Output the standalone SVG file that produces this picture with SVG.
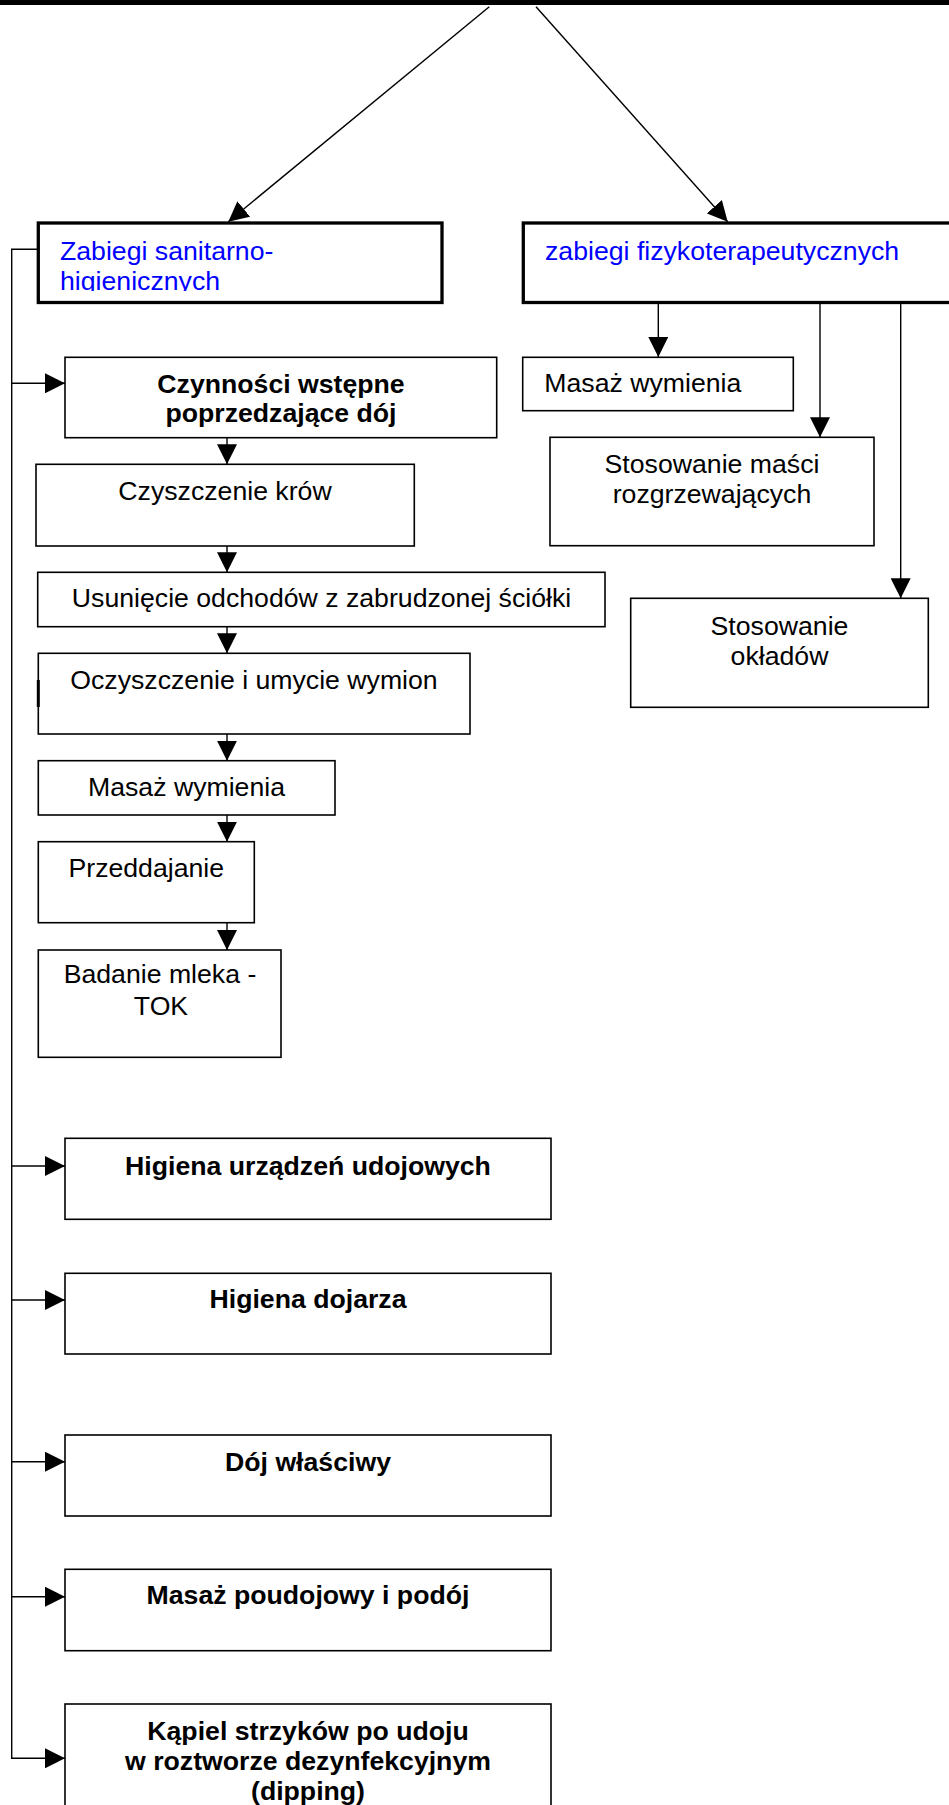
<svg xmlns="http://www.w3.org/2000/svg" width="949" height="1805" viewBox="0 0 949 1805">
<style>
.t{font-family:"Liberation Sans",Arial,sans-serif;font-size:26.67px;fill:#000}
.b{font-weight:bold}
.c{text-anchor:middle}
.blue{fill:#0000FF}
.box{fill:#fff;stroke:#000;stroke-width:1.6}
.big{fill:#fff;stroke:#000;stroke-width:3.3}
.ln{fill:none;stroke:#000;stroke-width:1.4}
</style>
<defs>
<marker id="ah" markerUnits="userSpaceOnUse" markerWidth="20" markerHeight="20" refX="20" refY="10" orient="auto">
<path d="M0,0 L20,10 L0,20 z" fill="#000"/>
</marker>
<clipPath id="clipL"><rect x="40" y="225" width="400" height="66"/></clipPath>
</defs>
<rect x="0" y="0" width="949" height="5" fill="#000"/>

<g id="connectors">
<line class="ln" x1="489.3" y1="6.7" x2="228.3" y2="221.7" marker-end="url(#ah)"/>
<line class="ln" x1="536" y1="6.7" x2="727.7" y2="221.7" marker-end="url(#ah)"/>
<polyline class="ln" points="38,249.3 11.7,249.3 11.7,1758.3 65,1758.3" marker-end="url(#ah)"/>
<line class="ln" x1="11.7" y1="383.3" x2="65" y2="383.3" marker-end="url(#ah)"/>
<line class="ln" x1="11.7" y1="1166" x2="65" y2="1166" marker-end="url(#ah)"/>
<line class="ln" x1="11.7" y1="1300" x2="65" y2="1300" marker-end="url(#ah)"/>
<line class="ln" x1="11.7" y1="1461.7" x2="65" y2="1461.7" marker-end="url(#ah)"/>
<line class="ln" x1="11.7" y1="1596.7" x2="65" y2="1596.7" marker-end="url(#ah)"/>
<line class="ln" x1="227" y1="437.7" x2="227" y2="464.3" marker-end="url(#ah)"/>
<line class="ln" x1="227" y1="546" x2="227" y2="572.3" marker-end="url(#ah)"/>
<line class="ln" x1="227" y1="626.7" x2="227" y2="653.3" marker-end="url(#ah)"/>
<line class="ln" x1="227" y1="734" x2="227" y2="760.7" marker-end="url(#ah)"/>
<line class="ln" x1="227" y1="815" x2="227" y2="841.7" marker-end="url(#ah)"/>
<line class="ln" x1="227" y1="922.7" x2="227" y2="950" marker-end="url(#ah)"/>
<line class="ln" x1="658.3" y1="304" x2="658.3" y2="357" marker-end="url(#ah)"/>
<line class="ln" x1="820" y1="304" x2="820" y2="437.3" marker-end="url(#ah)"/>
<line class="ln" x1="900.7" y1="304" x2="900.7" y2="598.3" marker-end="url(#ah)"/>
</g>

<g id="n-sanitarno">
<rect class="big" x="38.3" y="223" width="403.7" height="79.5"/>
<g clip-path="url(#clipL)">
<text class="t blue" x="60" y="260">Zabiegi sanitarno-</text>
<text class="t blue" x="60" y="290">higienicznych</text>
</g>
</g>

<g id="n-fizyko">
<rect class="big" x="523.3" y="223" width="440" height="79.5"/>
<text class="t blue" x="545" y="260">zabiegi fizykoterapeutycznych</text>
</g>

<g id="n-czynnosci">
<rect class="box" x="65" y="357.3" width="431.7" height="80.4"/>
<text class="t b c" x="281" y="392.5">Czynności wstępne</text>
<text class="t b c" x="281" y="422">poprzedzające dój</text>
</g>

<g id="n-czyszczenie">
<rect class="box" x="36" y="464.3" width="378.3" height="81.7"/>
<text class="t c" x="225" y="500">Czyszczenie krów</text>
</g>

<g id="n-usuniecie">
<rect class="box" x="37.7" y="572.3" width="567.3" height="54.4"/>
<text class="t c" x="321.5" y="607">Usunięcie odchodów z zabrudzonej ściółki</text>
</g>

<g id="n-oczyszczenie">
<rect class="box" x="38.3" y="653.3" width="431.7" height="80.7"/>
<line x1="38.3" y1="680" x2="38.3" y2="707" stroke="#000" stroke-width="3"/>
<text class="t c" x="254" y="689">Oczyszczenie i umycie wymion</text>
</g>

<g id="n-masaz-l">
<rect class="box" x="38.3" y="760.7" width="296.7" height="54.3"/>
<text class="t c" x="186.5" y="796">Masaż wymienia</text>
</g>

<g id="n-przeddajanie">
<rect class="box" x="38.3" y="841.7" width="216" height="81"/>
<text class="t c" x="146.3" y="877.3">Przeddajanie</text>
</g>

<g id="n-badanie">
<rect class="box" x="38.3" y="950" width="242.7" height="107.3"/>
<text class="t c" x="160" y="983.3">Badanie mleka -</text>
<text class="t c" x="161" y="1015">TOK</text>
</g>

<g id="n-higiena-urz">
<rect class="box" x="65" y="1138.3" width="486" height="81"/>
<text class="t b c" x="308" y="1175">Higiena urządzeń udojowych</text>
</g>

<g id="n-higiena-doj">
<rect class="box" x="65" y="1273.3" width="486" height="80.7"/>
<text class="t b c" x="308" y="1308.3">Higiena dojarza</text>
</g>

<g id="n-doj">
<rect class="box" x="65" y="1435" width="486" height="81"/>
<text class="t b c" x="308" y="1471">Dój właściwy</text>
</g>

<g id="n-masaz-poud">
<rect class="box" x="65" y="1569.3" width="486" height="81.4"/>
<text class="t b c" x="308" y="1604.3">Masaż poudojowy i podój</text>
</g>

<g id="n-kapiel">
<rect class="box" x="65" y="1704" width="486" height="120"/>
<text class="t b c" x="308" y="1740">Kąpiel strzyków po udoju</text>
<text class="t b c" x="308" y="1770">w roztworze dezynfekcyjnym</text>
<text class="t b c" x="308" y="1800">(dipping)</text>
</g>

<g id="n-masaz-r">
<rect class="box" x="522.7" y="357.3" width="270.6" height="53.4"/>
<text class="t" x="544.3" y="392.3">Masaż wymienia</text>
</g>

<g id="n-masci">
<rect class="box" x="550" y="437.3" width="324" height="108.4"/>
<text class="t c" x="712" y="473.3">Stosowanie maści</text>
<text class="t c" x="712" y="503.3">rozgrzewających</text>
</g>

<g id="n-oklady">
<rect class="box" x="630.7" y="598.3" width="297.6" height="109"/>
<text class="t c" x="779.5" y="635">Stosowanie</text>
<text class="t c" x="779.5" y="665">okładów</text>
</g>
</svg>
